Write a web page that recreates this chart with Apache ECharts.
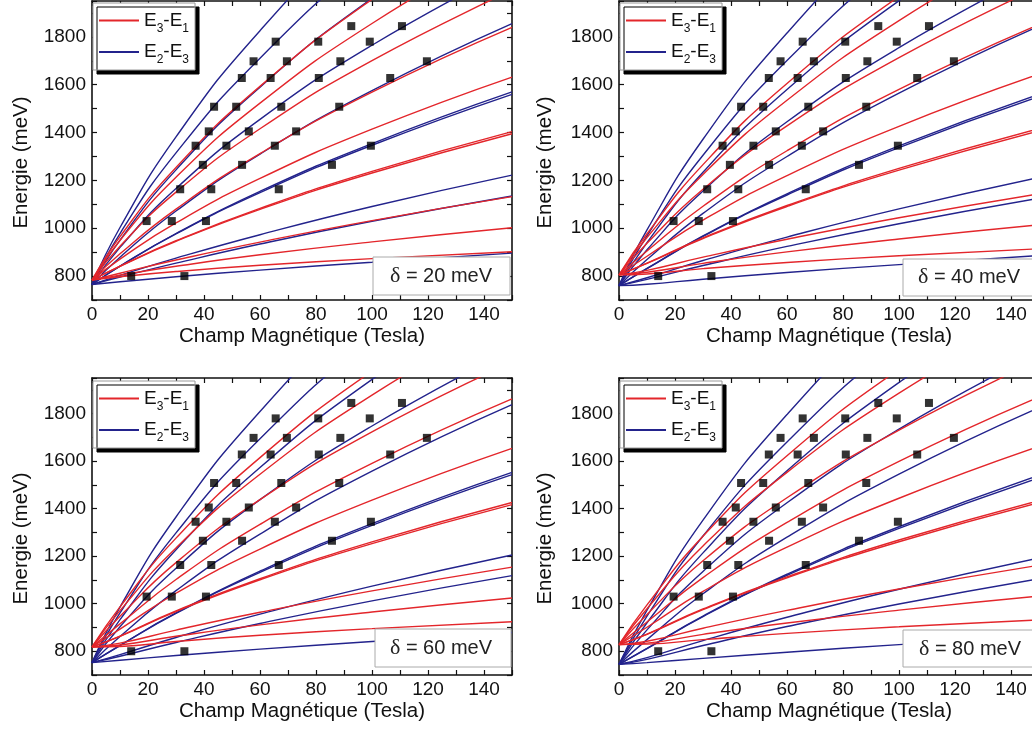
<!DOCTYPE html>
<html><head><meta charset="utf-8">
<script src="https://cdn.jsdelivr.net/npm/echarts@6/dist/echarts.min.js"></script>
<style>html,body{margin:0;padding:0;background:#fff;overflow:hidden}#c{width:1032px;height:731px}</style>
</head><body><div id="c"></div>
<script>
// Magnetic field sample positions (Tesla) at which the curves were read
const FIELD_T = [0, 10, 30, 60, 100, 150];
// Panel labels
const DELTAS = ['20', '40', '60', '80'];
// Axis tick labels
const X_TICKS = [0, 20, 40, 60, 80, 100, 120, 140];
const Y_TICKS = [800, 1000, 1200, 1400, 1600, 1800];

// Curves, energies (meV) at FIELD_T, panel δ = 20 meV
const P1_BLUE = [
  [765,1003,1382,1826,2303,2797],
  [765,978,1315,1711,2136,2577],
  [765,950,1244,1590,1961,2345],
  [765,920,1166,1455,1765,2087],
  [765,879,1072,1310,1575,1855],
  [765,842,978,1154,1354,1570],
  [765,841,976,1149,1347,1560],
  [765,803,875,973,1091,1222],
  [765,796,854,934,1029,1135],
  [765,776,797,825,858,896]
];
const P1_RED = [
  [783,965,1254,1593,1957,2335],
  [783,949,1213,1523,1856,2200],
  [783,925,1151,1416,1701,1995],
  [783,893,1080,1312,1569,1840],
  [783,871,1022,1208,1414,1632],
  [783,842,948,1083,1238,1404],
  [783,841,945,1079,1231,1395],
  [783,812,867,942,1032,1132],
  [783,804,841,889,943,1002],
  [783,797,819,845,873,902]
];
// δ = 40 meV
const P2_BLUE = [
  [760,993,1372,1816,2293,2787],
  [760,968,1305,1701,2126,2567],
  [760,940,1234,1580,1951,2335],
  [760,910,1156,1445,1755,2077],
  [760,869,1062,1300,1565,1845],
  [760,832,968,1144,1344,1560],
  [760,831,966,1139,1337,1550],
  [760,793,865,963,1081,1212],
  [760,786,844,924,1019,1125],
  [760,766,787,815,848,886]
];
const P2_RED = [
  [805,977,1266,1605,1969,2347],
  [805,961,1225,1535,1868,2212],
  [805,937,1163,1428,1713,2007],
  [805,905,1092,1324,1581,1852],
  [805,883,1034,1220,1426,1644],
  [805,854,960,1095,1250,1416],
  [805,853,957,1091,1243,1407],
  [805,824,879,954,1044,1144],
  [805,816,853,901,955,1014],
  [805,809,831,857,885,914]
];
// δ = 60 meV
const P3_BLUE = [
  [752,986,1365,1809,2286,2780],
  [752,961,1298,1694,2119,2560],
  [752,933,1227,1573,1944,2328],
  [752,903,1149,1438,1748,2070],
  [752,862,1055,1293,1558,1838],
  [752,825,961,1137,1337,1553],
  [752,824,959,1132,1330,1543],
  [752,786,858,956,1074,1205],
  [752,779,837,917,1012,1118],
  [752,762,782,809,841,879]
];
const P3_RED = [
  [818,987,1276,1615,1979,2357],
  [818,971,1235,1545,1878,2222],
  [818,947,1173,1438,1723,2017],
  [818,915,1102,1334,1591,1862],
  [818,893,1044,1230,1436,1654],
  [818,864,970,1105,1260,1426],
  [818,863,967,1101,1253,1417],
  [818,834,889,964,1054,1154],
  [818,826,863,911,965,1024],
  [818,820,841,867,895,924]
];
// δ = 80 meV
const P4_BLUE = [
  [745,973,1352,1796,2273,2767],
  [745,948,1285,1681,2106,2547],
  [745,920,1214,1560,1931,2315],
  [745,890,1136,1425,1735,2057],
  [745,849,1042,1280,1545,1825],
  [745,812,948,1124,1324,1540],
  [745,811,946,1119,1317,1530],
  [745,773,845,943,1061,1192],
  [745,766,824,904,999,1105],
  [745,752,770,796,828,866]
];
const P4_RED = [
  [828,995,1284,1623,1987,2365],
  [828,979,1243,1553,1886,2230],
  [828,955,1181,1446,1731,2025],
  [828,923,1110,1342,1599,1870],
  [828,901,1052,1238,1444,1662],
  [828,872,978,1113,1268,1434],
  [828,871,975,1109,1261,1425],
  [828,842,897,972,1062,1162],
  [828,834,871,919,973,1032],
  [828,830,849,875,903,932]
];
// Experimental points (same in every panel)
const EXP_B = [14,33,19.5,28.5,40.7,31.5,42.6,66.7,39.6,53.6,85.7,37,48,65.3,99.6,41.7,56,72.9,43.6,51.5,67.6,88.3,53.5,63.8,81,106.5,57.7,69.6,88.7,119.6,65.6,80.8,99.2,92.6,110.7];
const EXP_E = [800,800,1030,1030,1030,1163,1163,1163,1265,1265,1265,1345,1345,1345,1345,1405,1405,1405,1508,1508,1508,1508,1628,1628,1628,1628,1698,1698,1698,1698,1780,1780,1780,1845,1845];

const RED = '#e3262b', BLUE = '#23238c';
const FONT = 'Liberation Sans, Arial, sans-serif';
const PANELS = [
  {blue: P1_BLUE, red: P1_RED},
  {blue: P2_BLUE, red: P2_RED},
  {blue: P3_BLUE, red: P3_RED},
  {blue: P4_BLUE, red: P4_RED}
];
const GRIDS = [
  {left: 92, top: 1, width: 420, height: 299},
  {left: 619, top: 1, width: 420, height: 299},
  {left: 92, top: 378, width: 420, height: 297},
  {left: 619, top: 378, width: 420, height: 297}
];

const chart = echarts.init(document.getElementById('c'), null, {renderer: 'canvas'});
const grid = GRIDS.map(g => Object.assign({containLabel: false, outerBoundsMode: 'none'}, g));
const axLine = {show: true, onZero: false, lineStyle: {color: '#111', width: 1.6}};
const xAxis = [], yAxis = [];
const yNameGaps = [60, 63, 60, 63];
GRIDS.forEach((g, i) => {
  xAxis.push({type: 'value', gridIndex: i, position: 'bottom', min: 0, max: 150, interval: 10,
    axisLine: axLine, splitLine: {show: false},
    axisTick: {inside: true, length: 5, lineStyle: {color: '#111', width: 1.2}},
    axisLabel: {margin: 5, color: '#111', fontSize: 19, fontFamily: FONT,
      formatter: v => X_TICKS.indexOf(v) >= 0 ? String(v) : ''},
    name: 'Champ Magnétique (Tesla)', nameLocation: 'middle', nameGap: 26,
    nameTextStyle: {fontSize: 20.5, fontFamily: FONT, color: '#111'}});
  yAxis.push({type: 'value', gridIndex: i, position: 'left', min: 700, max: 1950, interval: 100,
    axisLine: axLine, splitLine: {show: false},
    axisTick: {inside: true, length: 5, lineStyle: {color: '#111', width: 1.2}},
    axisLabel: {margin: 6, color: '#111', fontSize: 19, fontFamily: FONT,
      formatter: v => Y_TICKS.indexOf(v) >= 0 ? String(v) : ''},
    name: 'Energie (meV)', nameLocation: 'middle', nameGap: yNameGaps[i],
    nameTextStyle: {fontSize: 20.5, fontFamily: FONT, color: '#111', padding: [0, 24, 0, 0]}});
});
GRIDS.forEach((g, i) => {
  xAxis.push({type: 'value', gridIndex: i, position: 'top', min: 0, max: 150, interval: 10,
    axisLine: axLine, splitLine: {show: false}, axisLabel: {show: false},
    axisTick: {inside: true, length: 5, lineStyle: {color: '#111', width: 1.2}}});
  yAxis.push({type: 'value', gridIndex: i, position: 'right', min: 700, max: 1950, interval: 100,
    axisLine: axLine, splitLine: {show: false}, axisLabel: {show: false},
    axisTick: {inside: true, length: 5, lineStyle: {color: '#111', width: 1.2}}});
});

const series = [];
PANELS.forEach((p, i) => {
  const mk = (vals, color, name, z) => ({
    type: 'line', name, xAxisIndex: i, yAxisIndex: i, color,
    data: FIELD_T.map((t, j) => [t, vals[j]]),
    smooth: 0.5, showSymbol: false, symbol: 'none', silent: true,
    clip: true, z, lineStyle: {color, width: 1.4}, itemStyle: {color}, animation: false
  });
  p.blue.forEach(v => series.push(mk(v, BLUE, 'E2-E3', 2)));
  p.red.forEach(v => series.push(mk(v, RED, 'E3-E1', 3)));
  series.push({type: 'scatter', name: 'exp', xAxisIndex: i, yAxisIndex: i, z: 5,
    symbol: 'rect', symbolSize: 8, itemStyle: {color: '#000'}, silent: true,
    data: EXP_B.map((b, k) => [b, EXP_E[k]])});
});

const legendPos = [[93, 3], [620, 3], [93, 381], [620, 381]];
const legend = legendPos.map(([l, t]) => ({
  data: ['E3-E1', 'E2-E3'], left: l, top: t, orient: 'vertical', icon: 'rect',
  itemWidth: 40, itemHeight: 2, itemGap: 8, selectedMode: false,
  backgroundColor: '#fff', borderColor: '#999', borderWidth: 1, padding: [8, 6, 4, 6],
  shadowColor: '#000', shadowBlur: 0, shadowOffsetX: 4, shadowOffsetY: 4,
  formatter: n => n === 'E3-E1' ? '{e|E}{s|3}{e|-E}{s|1}' : '{e|E}{s|2}{e|-E}{s|3}',
  textStyle: {fontFamily: FONT, color: '#111', rich: {
    e: {fontSize: 19, fontFamily: FONT, color: '#111', lineHeight: 22},
    s: {fontSize: 12, fontFamily: FONT, color: '#111', verticalAlign: 'bottom', lineHeight: 12, padding: [0, 0, -3, 0]}
  }}
}));

const boxes = [[373, 257, 137, 38, 441, 276], [903, 259, 137, 37, 969, 277], [375, 629, 136, 38, 441, 648], [903, 630, 137, 37, 970, 649]];
const graphic = [];
boxes.forEach(([x, y, w, h, tx, ty], i) => {
  graphic.push({type: 'rect', z: 100, shape: {x, y, width: w, height: h}, style: {fill: '#fff', stroke: '#aaa', lineWidth: 1}});
  graphic.push({type: 'text', z: 101, x: tx, y: ty, style: {
    text: '{d|δ}{t| = ' + DELTAS[i] + ' meV}', align: 'center', verticalAlign: 'middle',
    rich: {d: {fontFamily: 'Liberation Serif, serif', fontSize: 22, fill: '#222'}, t: {fontFamily: FONT, fontSize: 20, fill: '#222'}}
  }});
});

chart.setOption({animation: false, backgroundColor: '#fff', grid, xAxis, yAxis, series, legend, graphic});
</script></body></html>
